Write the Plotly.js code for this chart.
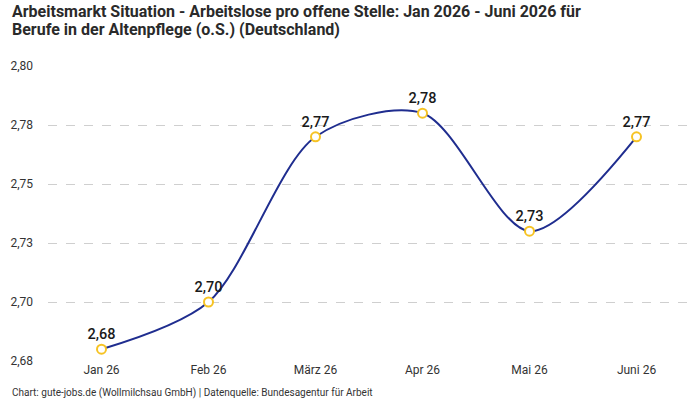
<!DOCTYPE html>
<html>
<head>
<meta charset="utf-8">
<script src="https://cdn.plot.ly/plotly-3.0.1.min.js"></script>
<style>html,body{margin:0;padding:0;background:#fff}#chart{width:700px;height:400px}</style>
</head>
<body>
<div id="chart"></div>
<script>
// Arbeitslose pro offene Stelle, Altenpflege (o.S.), Deutschland
const months = ["Jan 26", "Feb 26", "März 26", "Apr 26", "Mai 26", "Juni 26"];
const ratio = [2.68, 2.70, 2.77, 2.78, 2.73, 2.77];
const yTicks = [2.675, 2.70, 2.725, 2.75, 2.775, 2.80];
const yTickText = ["2,68", "2,70", "2,73", "2,75", "2,78", "2,80"];
const titleLines = [
  "Arbeitsmarkt Situation - Arbeitslose pro offene Stelle: Jan 2026 - Juni 2026 für",
  "Berufe in der Altenpflege (o.S.) (Deutschland)"
];
const sourceNote = "Chart: gute-jobs.de (Wollmilchsau GmbH) | Datenquelle: Bundesagentur für Arbeit";

const fmt = v => v.toFixed(2).replace(".", ",");
const FONT = "Roboto, 'Noto Sans', sans-serif";

const trace = {
  x: months,
  y: ratio,
  type: "scatter",
  mode: "lines+markers+text",
  line: {color: "#1f2d8f", width: 2, shape: "spline", smoothing: 0.85},
  marker: {size: 9, color: "#ffffff", line: {color: "#f6c324", width: 2}},
  text: ratio.map(fmt),
  textposition: "top center",
  textfont: {family: FONT, size: 14.5, color: "#1a1a1a", weight: 500},
  cliponaxis: false,
  hoverinfo: "skip"
};

// title lines placed individually for tight line spacing
const titleAnn = titleLines.map((t, i) => ({
  text: "<b>" + t + "</b>",
  xref: "paper", yref: "paper",
  x: -0.059, y: i === 0 ? 1.1864 : 1.1254,
  xanchor: "left", yanchor: "middle", align: "left",
  showarrow: false,
  font: {family: FONT, size: 16, color: "#2a2a2a"}
}));

const layout = {
  width: 700,
  height: 400,
  margin: {l: 48, r: 10, t: 66, b: 39},
  paper_bgcolor: "#ffffff",
  plot_bgcolor: "#ffffff",
  showlegend: false,
  font: {family: FONT, color: "#333333", size: 12},
  xaxis: {
    type: "category",
    range: [-0.5, 5.5],
    showgrid: false,
    zeroline: false,
    showline: false,
    ticks: "",
    tickfont: {family: FONT, size: 12, color: "#333333"},
    fixedrange: true
  },
  yaxis: {
    range: [2.675, 2.80],
    tickvals: yTicks,
    ticktext: yTickText,
    showgrid: true,
    gridcolor: "#cfcfcf",
    griddash: "dash",
    gridwidth: 1,
    zeroline: false,
    showline: false,
    ticks: "",
    ticklabelstandoff: 14,
    tickfont: {family: FONT, size: 12, color: "#333333"},
    fixedrange: true
  },
  annotations: titleAnn.concat([{
    text: sourceNote,
    xref: "paper", yref: "paper",
    x: -0.059, y: -0.108,
    xanchor: "left", yanchor: "middle",
    showarrow: false,
    font: {family: FONT, size: 10, color: "#333333"}
  }])
};

Plotly.newPlot("chart", [trace], layout, {displayModeBar: false, staticPlot: true});
</script>
</body>
</html>
